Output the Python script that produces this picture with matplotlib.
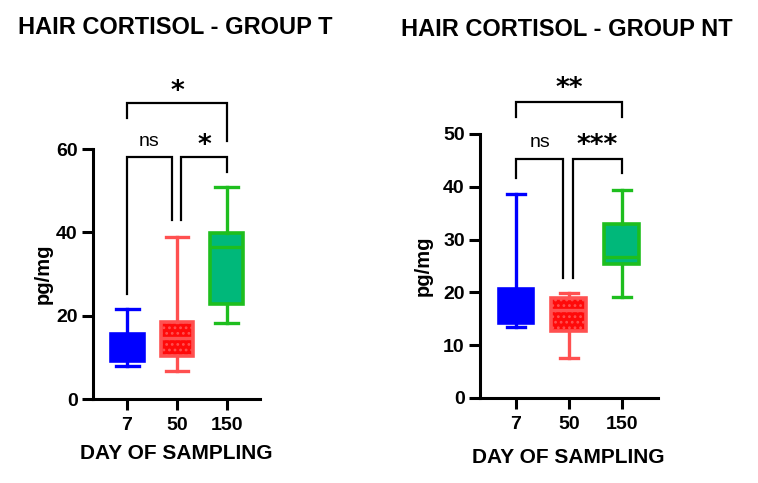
import matplotlib
matplotlib.use("Agg")
import matplotlib.pyplot as plt

plt.rcParams['font.family'] = ['Liberation Sans', 'DejaVu Sans']
plt.rcParams['hatch.linewidth'] = 1.2

days = ["7", "50", "150"]

# Group T box stats: whislo, q1, med, q3, whishi
t_whislo = [8.0, 6.7, 18.3]
t_q1 = [9.2, 10.4, 22.9]
t_med = [12.0, 14.7, 36.6]
t_q3 = [15.7, 18.6, 39.8]
t_whishi = [21.7, 39.0, 50.8]

# Group NT box stats
nt_whislo = [13.4, 7.6, 19.1]
nt_q1 = [14.2, 12.7, 25.4]
nt_med = [15.5, 16.7, 26.7]
nt_q3 = [20.6, 19.0, 33.0]
nt_whishi = [38.6, 19.9, 39.4]

titles = ["HAIR CORTISOL - GROUP T", "HAIR CORTISOL - GROUP NT"]
t_yticks = [0, 20, 40, 60]
nt_yticks = [0, 10, 20, 30, 40, 50]

# significance annotations: (x_left, x_right, y_top, y_left_bottom, y_right_bottom, label, label_x, label_y)
t_sig = [
    (0, 0.9, 58.1, 25.3, 42.9, "ns", 0.45, 59.8),
    (1.08, 2, 58.1, 42.9, 54.5, "*", 1.54, 57.6),
    (0, 2, 71.1, 67.5, 61.9, "*", 1.0, 70.6),
]
nt_sig = [
    (0, 0.89, 45.3, 41.7, 22.7, "ns", 0.45, 46.8),
    (1.08, 2, 45.3, 22.7, 42.6, "***", 1.53, 45.3),
    (0, 2, 56.1, 53.2, 53.2, "**", 1.0, 56.1),
]

face_colors = ["#0000FF", "#FF0A0A", "#00B87A"]
edge_colors = ["#0000FF", "#FF5050", "#1EBE1E"]
hatches = [None, "...", None]

fig = plt.figure(figsize=(7.58, 4.83), dpi=100)
ax1 = fig.add_axes([0.1227, 0.1739, 0.2203, 0.5176])
ax2 = fig.add_axes([0.6332, 0.1760, 0.2348, 0.5466])


def draw(ax, wl, q1, med, q3, wh, ylim, yticks, xlim, capw, sig, ylab_xy, xlab_xy):
    stats = []
    for i in range(3):
        stats.append(dict(whislo=wl[i], q1=q1[i], med=med[i], q3=q3[i], whishi=wh[i], label=days[i]))
    res = ax.bxp(stats, positions=[0, 1, 2], widths=0.66, capwidths=capw,
                 showfliers=False, patch_artist=True)
    for i in range(3):
        b = res['boxes'][i]
        b.set_facecolor(face_colors[i])
        b.set_edgecolor(edge_colors[i])
        b.set_linewidth(2.6)
        if hatches[i]:
            b.set_hatch(hatches[i])
        res['medians'][i].set_color(edge_colors[i])
        res['medians'][i].set_linewidth(2.4)
        for k in (2 * i, 2 * i + 1):
            res['whiskers'][k].set_color(edge_colors[i])
            res['whiskers'][k].set_linewidth(2.4)
            res['caps'][k].set_color(edge_colors[i])
            res['caps'][k].set_linewidth(2.4)
    ax.set_ylim(*ylim)
    ax.set_xlim(*xlim)
    ax.set_yticks(yticks)
    ax.set_xticks([0, 1, 2])
    ax.set_xticklabels(days)
    for s in ("top", "right"):
        ax.spines[s].set_visible(False)
    for s in ("left", "bottom"):
        ax.spines[s].set_linewidth(2.2)
    ax.tick_params(axis='both', length=8, width=2.2, labelsize=14, pad=3)
    ax.tick_params(axis='x', pad=5)
    for lab in ax.get_xticklabels() + ax.get_yticklabels():
        lab.set_fontweight('bold')
    ax.set_ylabel("pg/mg", fontsize=14.5, fontweight='bold', va='center')
    ax.yaxis.set_label_coords(*ylab_xy)
    ax.set_xlabel("DAY OF SAMPLING", fontsize=15, fontweight='bold', va='center')
    ax.xaxis.set_label_coords(*xlab_xy)
    for (xl, xr, yt, ylb, yrb, lab, lx, ly) in sig:
        ax.plot([xl, xl, xr, xr], [ylb, yt, yt, yrb], color='black', lw=1.6,
                clip_on=False, solid_joinstyle='miter')
        if lab == "ns":
            ax.text(lx, ly, lab, ha='center', va='bottom', fontsize=14, clip_on=False)
        else:
            ax.text(lx, ly, lab, ha='center', va='bottom', fontsize=19,
                    fontweight='bold', family='DejaVu Sans', clip_on=False)


draw(ax1, t_whislo, t_q1, t_med, t_q3, t_whishi, (0, 60), t_yticks, (-0.68, 2.66), 0.46, t_sig,
     (-0.30, 0.5), (0.497, -0.216))
draw(ax2, nt_whislo, nt_q1, nt_med, nt_q3, nt_whishi, (0, 50), nt_yticks, (-0.68, 2.68), 0.35, nt_sig,
     (-0.32, 0.5), (0.494, -0.227))

fig.text(175 / 758, 1 - 27 / 483, titles[0], ha='center', va='center', fontsize=17, fontweight='bold')
fig.text(567 / 758, 1 - 30 / 483, titles[1], ha='center', va='center', fontsize=17, fontweight='bold')

fig.savefig("out.png", dpi=100, facecolor='white')
